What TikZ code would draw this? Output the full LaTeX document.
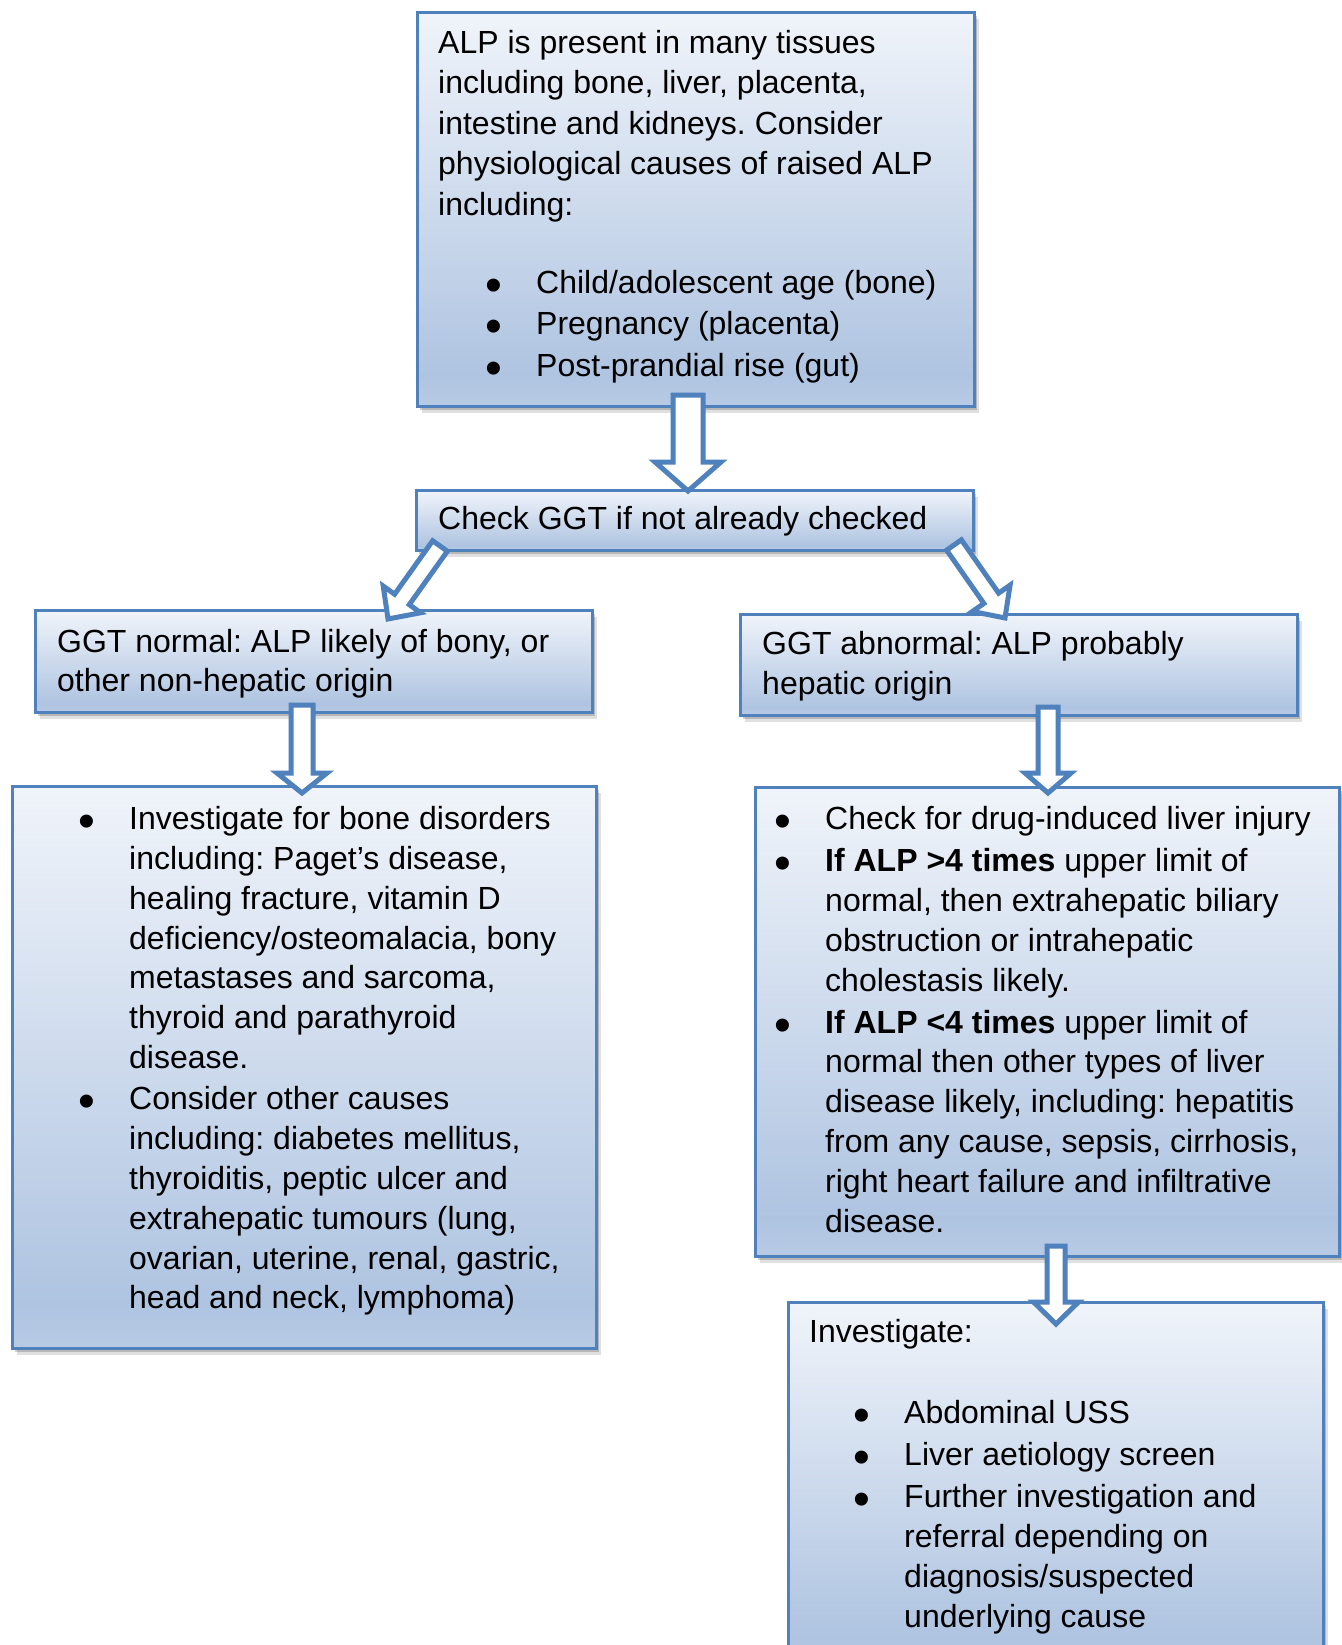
\documentclass[tikz,border=0pt]{standalone}
\usepackage{fontspec}
\setmainfont{Liberation Sans}
\usepackage{graphicx}
\usetikzlibrary{calc,shadows}
\definecolor{accent}{HTML}{4F81BD}
\definecolor{gT}{HTML}{F0F4FA}
\definecolor{gB}{HTML}{AFC4E1}
\definecolor{gBB}{HTML}{B8CBE5}
\pgfdeclareverticalshading{boxgrad}{100bp}{color(0bp)=(gBB); color(25bp)=(gBB); color(29bp)=(gB); color(75bp)=(gT); color(100bp)=(gT)}
\newcommand\bdot{\raisebox{-8pt}{\scalebox{1.5}{•}}}
\newcommand\bl[2]{\makebox[#2][l]{\hspace*{#1}\makebox[0pt][c]{\bdot}}}
\newcommand\fs{\rule{0pt}{30pt}}
\newcommand\ind[1]{\hspace*{#1}}
\frenchspacing
\begin{document}
\begin{tikzpicture}[x=1pt,y=-1pt,
  box/.style={rectangle, draw=accent, line width=3.2pt, shade, shading=boxgrad, inner sep=0pt, anchor=north west,
    drop shadow={shadow xshift=2pt, shadow yshift=-3pt, opacity=.18, fill=black},
    drop shadow={shadow xshift=4pt, shadow yshift=-6pt, opacity=.12, fill=black}},
  txt/.style={anchor=north west, inner sep=0pt, align=left, font=\fontsize{32}{#1}\selectfont\frenchspacing},
  txt/.default=40,
  blockarrow/.style n args={3}{draw=accent, line width=5pt, fill=white, line join=miter, miter limit=10,
    to path={let \p1=($(\tikztotarget)-(\tikztostart)$), \n1={veclen(\x1,\y1)}, \n2={atan2(\y1,\x1)} in
      ([shift={(\tikztostart)},rotate=\n2]0pt,#1pt) -- ([shift={(\tikztostart)},rotate=\n2]{\n1-#3pt},#1pt)
      -- ([shift={(\tikztostart)},rotate=\n2]{\n1-#3pt},#2pt) -- ([shift={(\tikztostart)},rotate=\n2]{\n1},0pt)
      -- ([shift={(\tikztostart)},rotate=\n2]{\n1-#3pt},-#2pt) -- ([shift={(\tikztostart)},rotate=\n2]{\n1-#3pt},-#1pt)
      -- ([shift={(\tikztostart)},rotate=\n2]0pt,-#1pt) -- cycle}}]
\useasboundingbox (0,0) rectangle (1341,1645);
\fill[white] (0,0) rectangle (1341,1645);

% boxes
\node[box, minimum width=557pt, minimum height=394pt] (top) at (416,11) {};
\node[box, minimum width=557pt, minimum height=60pt] (check) at (415,489) {};
\node[box, minimum width=557pt, minimum height=102pt] (norm) at (34,609) {};
\node[box, minimum width=557pt, minimum height=101pt] (abn) at (739,613) {};
\node[box, minimum width=584pt, minimum height=562pt] (bone) at (11,785) {};
\node[box, minimum width=584pt, minimum height=469pt] (liver) at (754,786) {};
\node[box, minimum width=535pt, minimum height=364pt] (inv) at (787,1301) {};

% texts
\node[txt=40.5] (t1) at (438,23) {\fs ALP is present in many tissues\\
including bone, liver, placenta,\\
intestine and kidneys. Consider\\
physiological causes of raised ALP\\
including:\\[37.5pt]
\bl{56pt}{98pt}Child/adolescent age (bone)\\[1pt]
\bl{56pt}{98pt}Pregnancy (placenta)\\[1pt]
\bl{56pt}{98pt}Post-prandial rise (gut)};

\node[txt] (t2) at (438,499) {\fs Check GGT if not already checked};

\node[txt=39.5] (t3) at (57,622) {\fs GGT normal: ALP likely of bony, or\\
other non-hepatic origin};

\node[txt=40] (t4) at (762,624) {\fs GGT abnormal: ALP probably\\
hepatic origin};

\node[txt=39.8] (t5) at (60,799.5) {\fs\bl{27pt}{69pt}Investigate for bone disorders\\
\ind{69pt}including: Paget’s disease,\\
\ind{69pt}healing fracture, vitamin D\\
\ind{69pt}deficiency/osteomalacia, bony\\
\ind{69pt}metastases and sarcoma,\\
\ind{69pt}thyroid and parathyroid\\
\ind{69pt}disease.\\[1.5pt]
\bl{27pt}{69pt}Consider other causes\\
\ind{69pt}including: diabetes mellitus,\\
\ind{69pt}thyroiditis, peptic ulcer and\\
\ind{69pt}extrahepatic tumours (lung,\\
\ind{69pt}ovarian, uterine, renal, gastric,\\
\ind{69pt}head and neck, lymphoma)};

\node[txt=39.8] (t6) at (760,799.5) {\fs\bl{23pt}{65pt}Check for drug-induced liver injury\\[2.2pt]
\bl{23pt}{65pt}\textbf{If ALP >4 times} upper limit of\\
\ind{65pt}normal, then extrahepatic biliary\\
\ind{65pt}obstruction or intrahepatic\\
\ind{65pt}cholestasis likely.\\[2.2pt]
\bl{23pt}{65pt}\textbf{If ALP <4 times} upper limit of\\
\ind{65pt}normal then other types of liver\\
\ind{65pt}disease likely, including: hepatitis\\
\ind{65pt}from any cause, sepsis, cirrhosis,\\
\ind{65pt}right heart failure and infiltrative\\
\ind{65pt}disease.};

\node[txt=40] (t7) at (809,1312) {\fs Investigate:\\[41.5pt]
\bl{53pt}{95pt}Abdominal USS\\[2pt]
\bl{53pt}{95pt}Liver aetiology screen\\[2pt]
\bl{53pt}{95pt}Further investigation and\\
\ind{95pt}referral depending on\\
\ind{95pt}diagnosis/suspected\\
\ind{95pt}underlying cause};

% arrow end points
\coordinate (a1s) at (688,395);  \coordinate (a1e) at (688,491);
\coordinate (a2s) at (440,546);  \coordinate (a2e) at (388,619);
\coordinate (a3s) at (954,545);  \coordinate (a3e) at (1005,618);
\coordinate (a4s) at (302,705);  \coordinate (a4e) at (302,793);
\coordinate (a5s) at (1048,707); \coordinate (a5e) at (1048,793);
\coordinate (a6s) at (1056,1246); \coordinate (a6e) at (1056,1324);

% block arrows
\draw[blockarrow={15}{33}{29}] (a1s) to (a1e);
\draw[blockarrow={9}{23}{24}] (a2s) to (a2e);
\draw[blockarrow={9}{23}{24}] (a3s) to (a3e);
\draw[blockarrow={11}{25}{20}] (a4s) to (a4e);
\draw[blockarrow={10}{23}{20}] (a5s) to (a5e);
\draw[blockarrow={9}{22.5}{22}] (a6s) to (a6e);
\end{tikzpicture}
\end{document}
